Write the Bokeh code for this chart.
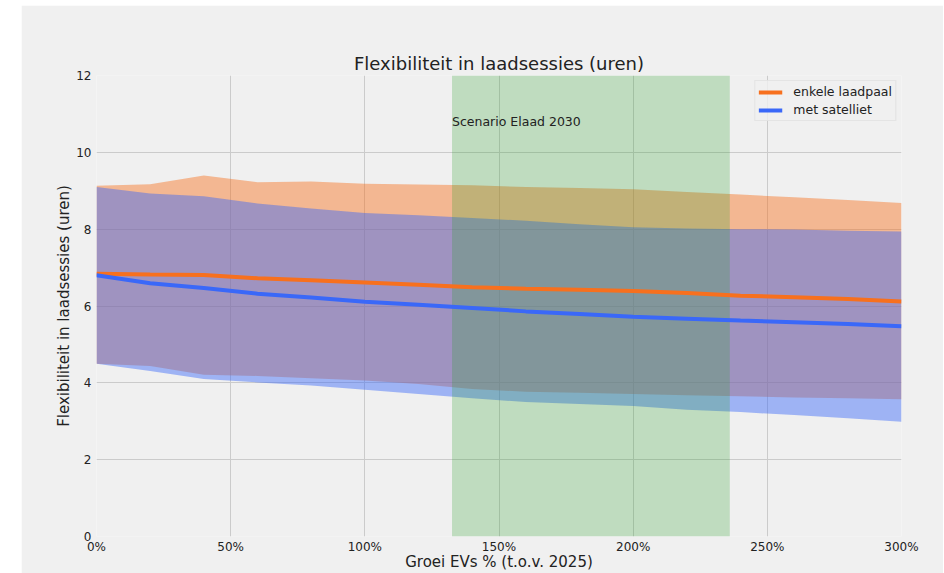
from bokeh.plotting import figure
from bokeh.models import (Range1d, FixedTicker, PrintfTickFormatter, Legend,
                          LegendItem, Spacer, ColumnDataSource)
from bokeh.layouts import row, column
from bokeh.embed import file_html
from bokeh.resources import INLINE
from bokeh.core.properties import value

# ---------------- data ----------------
growth_pct = [0, 20, 40, 60, 80, 100, 120, 140, 160, 180, 200, 220, 240, 260, 280, 300]

single_mean = [6.84, 6.82, 6.81, 6.72, 6.67, 6.61, 6.55, 6.49, 6.45, 6.42, 6.39, 6.34, 6.27, 6.23, 6.18, 6.12]
single_upper = [9.13, 9.17, 9.40, 9.22, 9.24, 9.18, 9.16, 9.14, 9.10, 9.07, 9.04, 8.97, 8.90, 8.83, 8.76, 8.68]
single_lower = [4.50, 4.44, 4.21, 4.18, 4.12, 4.06, 3.97, 3.84, 3.77, 3.74, 3.71, 3.68, 3.65, 3.62, 3.60, 3.57]

sat_mean = [6.80, 6.59, 6.47, 6.32, 6.22, 6.11, 6.03, 5.95, 5.86, 5.79, 5.72, 5.67, 5.62, 5.58, 5.53, 5.47]
sat_upper = [9.10, 8.93, 8.86, 8.67, 8.54, 8.42, 8.36, 8.29, 8.22, 8.13, 8.05, 8.02, 8.00, 7.99, 7.96, 7.94]
sat_lower = [4.50, 4.31, 4.10, 4.01, 3.93, 3.82, 3.71, 3.60, 3.50, 3.45, 3.40, 3.30, 3.24, 3.16, 3.08, 2.99]

scenario_start = [132.5]
scenario_end = [236.0]
scenario_label = ["Scenario Elaad 2030"]
scenario_label_y = [10.8]

x_ticks = [0, 50, 100, 150, 200, 250, 300]
y_ticks = [0, 2, 4, 6, 8, 10, 12]
series_names = ["enkele laadpaal", "met satelliet"]

# ---------------- styling ----------------
ORANGE = "#f7701e"
BLUE = "#3a68f8"
GREEN = "#2ca02c"
BG = "#f0f0f0"
TXT = "#222222"
FONT = "DejaVu Sans"

src = ColumnDataSource(dict(x=growth_pct, sm=single_mean, su=single_upper, sl=single_lower,
                            bm=sat_mean, bu=sat_upper, bl=sat_lower))

p = figure(width=922, height=568, output_backend="svg", toolbar_location=None,
           x_range=Range1d(0, 300), y_range=Range1d(0, 12),
           min_border_left=75, min_border_right=42, min_border_top=70, min_border_bottom=36)
p.background_fill_color = BG
p.border_fill_color = BG
p.outline_line_color = None

p.title.text = "Flexibiliteit in laadsessies (uren)"
p.title.align = "center"
p.title.text_font = FONT
p.title.text_font_size = "18px"
p.title.text_font_style = "normal"
p.title.text_color = TXT
p.title.standoff = 3

# bands
p.varea(x="x", y1="sl", y2="su", source=src, fill_color=ORANGE, fill_alpha=0.45)
p.varea(x="x", y1="bl", y2="bu", source=src, fill_color=BLUE, fill_alpha=0.45)

# scenario band
p.quad(left=scenario_start, right=scenario_end, bottom=[0], top=[12],
       fill_color=GREEN, fill_alpha=0.25, line_color=None)

# mean lines
l1 = p.line(x="x", y="sm", source=src, line_color=ORANGE, line_width=4)
l2 = p.line(x="x", y="bm", source=src, line_color=BLUE, line_width=4)

p.text(x=scenario_start, y=scenario_label_y, text=scenario_label,
       text_font=value(FONT), text_font_size="12.5px", text_color=TXT,
       text_baseline="middle", text_align="left")

# axes
for ax in (p.xaxis[0], p.yaxis[0]):
    ax.axis_line_color = None
    ax.major_tick_line_color = None
    ax.minor_tick_line_color = None
    ax.major_tick_out = 0
    ax.major_tick_in = 0
    ax.minor_tick_out = 0
    ax.minor_tick_in = 0
    ax.major_label_text_font = FONT
    ax.major_label_text_font_size = "12px"
    ax.major_label_text_color = TXT
    ax.axis_label_text_font = FONT
    ax.axis_label_text_font_size = "15px"
    ax.axis_label_text_font_style = "normal"
    ax.axis_label_text_color = TXT

p.xaxis.ticker = FixedTicker(ticks=x_ticks)
p.xaxis.formatter = PrintfTickFormatter(format="%d%%")
p.xaxis.axis_label = "Groei EVs % (t.o.v. 2025)"
p.xaxis.major_label_standoff = 3
p.xaxis.axis_label_standoff = -4

p.yaxis.ticker = FixedTicker(ticks=y_ticks)
p.yaxis.axis_label = "Flexibiliteit in laadsessies (uren)"
p.yaxis.major_label_standoff = 5
p.yaxis.axis_label_standoff = 0

p.xgrid.grid_line_color = "#cbcbcb"
p.ygrid.grid_line_color = "#cbcbcb"
p.xgrid.grid_line_width = 1
p.ygrid.grid_line_width = 1

legend = Legend(items=[LegendItem(label=series_names[0], renderers=[l1]),
                       LegendItem(label=series_names[1], renderers=[l2])],
                location="top_right", margin=5, padding=3, spacing=3,
                label_text_font=FONT, label_text_font_size="12.5px", label_text_color=TXT,
                label_height=12, glyph_height=12, glyph_width=24, label_standoff=11,
                background_fill_color=BG, background_fill_alpha=0.8,
                border_line_color="#d8d8d8", border_line_width=1)
p.add_layout(legend)

layout = column(Spacer(width=943, height=5),
                row(Spacer(width=21, height=568), p))
open("out.html", "w").write(file_html(layout, INLINE))
